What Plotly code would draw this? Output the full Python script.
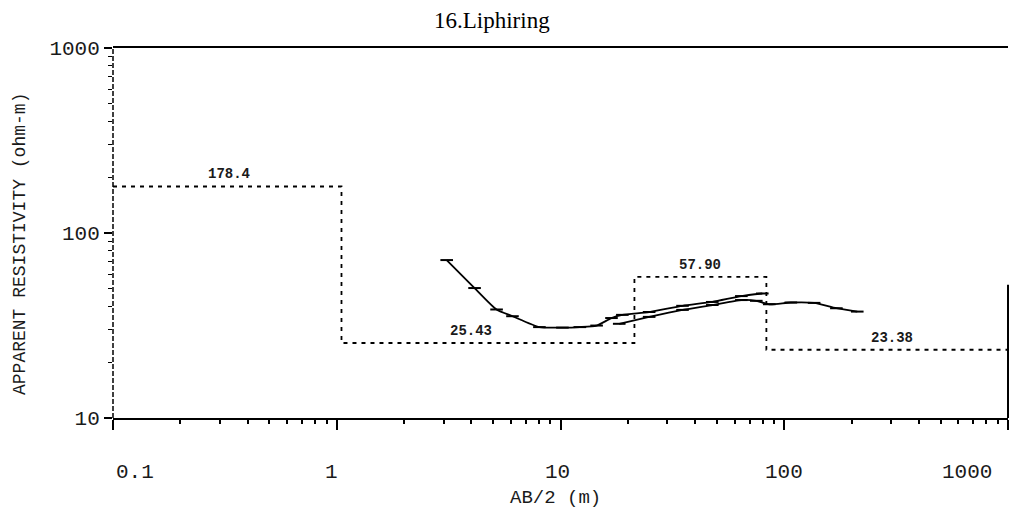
import math
import plotly.graph_objects as go

# Layered earth model: resistivity of each layer (ohm-m) and depth of each interface (m)
layer_rho = [178.4, 25.43, 57.90, 23.38]
layer_depth = [1.05, 21.4, 83.2]
x_min, x_max = 0.1, 1000

# Field sounding data, first spread
ab2_a = [3.1, 4.13, 5.18, 6.1, 8.05, 10.2, 12.2, 14.5, 16.9, 18.9, 24.9, 35.1, 47.7, 64.3, 79.8]
rho_a = [71.4, 50.4, 38.6, 35.5, 31.0, 30.8, 31.0, 31.6, 34.7, 36.1, 37.4, 40.4, 42.4, 45.6, 47.1]

# Field sounding data, second spread
ab2_b = [18.3, 24.9, 35.1, 47.7, 64.3, 75.0, 85.7, 107, 136, 171, 212]
rho_b = [32.3, 35.2, 38.4, 40.8, 43.4, 43.0, 41.2, 42.1, 41.9, 39.2, 37.6]

# Axis tick labels
x_ticks = [0.1, 1, 10, 100, 1000]
x_ticktext = ["0.1", "1", "10", "100", "1000"]
y_ticks = [10, 100, 1000]
y_ticktext = ["10", "100", "1000"]

mono = "Liberation Mono"
ink = "#1a1a1a"

# Step outline of the layered model
step_x, step_y = [], []
bounds = [x_min] + layer_depth + [x_max]
for i, rho in enumerate(layer_rho):
    step_x += [bounds[i], bounds[i + 1]]
    step_y += [rho, rho]

fig = go.Figure()

fig.add_trace(go.Scatter(
    x=step_x, y=step_y, mode="lines",
    line=dict(color="black", width=1.8, dash="4px,5px"),
    hoverinfo="skip", showlegend=False,
))

for xs, ys in ((ab2_a, rho_a), (ab2_b, rho_b)):
    fig.add_trace(go.Scatter(
        x=xs, y=ys, mode="lines+markers",
        line=dict(color="black", width=1.8, shape="spline", smoothing=0.6),
        marker=dict(symbol="line-ew", size=9, line=dict(color="black", width=2)),
        showlegend=False,
    ))

# Layer resistivity labels, placed just above each layer segment
label_x = [0.33, 4.0, 42.2, 303]
for lx, rho in zip(label_x, layer_rho):
    txt = f"{rho:.2f}" if rho < 100 else f"{rho:.1f}"
    fig.add_annotation(
        x=math.log10(lx), y=math.log10(rho), xref="x", yref="y",
        text=f"<b>{txt}</b>",
        showarrow=False, yanchor="middle", yshift=12,
        font=dict(family=mono, size=14, color=ink),
    )

# Decade labels under the AB/2 axis (the last one is kept inside the frame)
x_label_shift = [22, -5, -3, 0, -41]
for tv, tt, sh in zip(x_ticks, x_ticktext, x_label_shift):
    fig.add_annotation(
        x=math.log10(tv), y=-0.148, xref="x", yref="paper", text=tt,
        showarrow=False, xanchor="center", yanchor="middle", xshift=sh,
        font=dict(family=mono, size=21, color=ink),
    )

minor_vals = [m * 10 ** k for k in range(-1, 3) for m in range(2, 10)]
minor_y = [m * 10 ** k for k in range(1, 3) for m in range(2, 10)]

fig.update_xaxes(
    type="log", range=[-1, 3],
    tickmode="array", tickvals=x_ticks, ticktext=x_ticktext,
    showticklabels=False,
    ticks="outside", ticklen=10, tickwidth=1.5, tickcolor="black",
    minor=dict(tickmode="array", tickvals=minor_vals, ticks="outside",
               ticklen=4, tickwidth=1.5, tickcolor="black", showgrid=False),
    showline=True, linecolor="black", linewidth=2.2, mirror=True,
    showgrid=False, zeroline=False,
)
fig.update_yaxes(
    type="log", range=[1, 3],
    tickmode="array", tickvals=y_ticks, ticktext=y_ticktext,
    ticks="outside", ticklen=8, tickwidth=1.5, tickcolor="black",
    minor=dict(tickmode="array", tickvals=minor_y, ticks="outside",
               ticklen=4, tickwidth=1.2, tickcolor="black", showgrid=False),
    showline=False, showgrid=False, zeroline=False,
    tickfont=dict(family=mono, size=21, color=ink),
)

# Left frame edge drawn broken, right edge only near the bottom
fig.add_shape(type="line", xref="x domain", yref="y domain",
              x0=0, x1=0, y0=0, y1=1,
              line=dict(color="black", width=1.5, dash="5px,2px"))
fig.add_shape(type="line", xref="x domain", yref="y domain",
              x0=1, x1=1, y0=0, y1=0.36,
              line=dict(color="black", width=2))

fig.add_annotation(
    text="16.Liphiring", xref="paper", yref="paper", x=0.4235, y=1.075,
    showarrow=False, xanchor="center", yanchor="middle",
    font=dict(family="Liberation Serif", size=23, color="black"),
)
fig.add_annotation(
    text="AB/2 (m)", xref="paper", yref="paper", x=0.494, y=-0.216,
    showarrow=False, xanchor="center", yanchor="middle",
    font=dict(family=mono, size=19, color=ink),
)
fig.add_annotation(
    text="APPARENT RESISTIVITY (ohm-m)", xref="paper", yref="paper",
    x=-0.104, y=0.47, textangle=-90,
    showarrow=False, xanchor="center", yanchor="middle",
    font=dict(family=mono, size=18, color=ink),
)

fig.update_layout(
    width=1011, height=511,
    margin=dict(l=113, r=3, t=48, b=93),
    paper_bgcolor="white", plot_bgcolor="white",
    showlegend=False,
)

fig.write_html("out.html")
